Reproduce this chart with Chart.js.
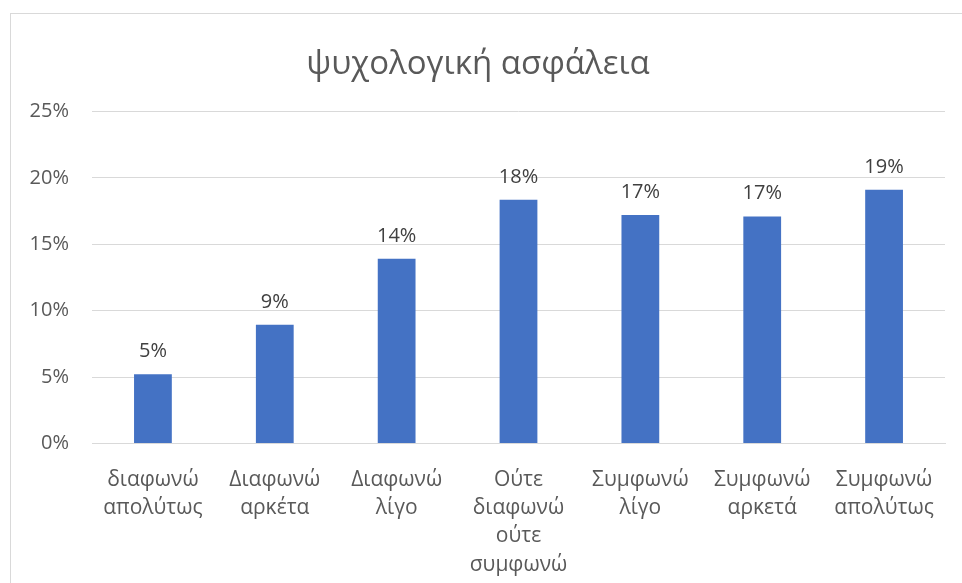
<!DOCTYPE html>
<html>
<head>
<meta charset="utf-8">
<script src="https://cdn.jsdelivr.net/npm/chart.js@4"></script>
<style>
    html, body { margin: 0; padding: 0; background: #fff; overflow: hidden; }
    #frame {
        position: absolute;
        left: 10px;
        top: 13px;
        width: 960px;
        height: 620px;
        border: 1px solid #d9d9d9;
    }
    #wrap {
        position: absolute;
        left: 11px;
        top: 14px;
        width: 951px;
        height: 569px;
    }
</style>
</head>
<body>
<div id="frame"></div>
<div id="wrap"><canvas id="chart"></canvas></div>
<script>
const chartTitle = 'ψυχολογική ασφάλεια';
const categories = [
    ['διαφωνώ', 'απολύτως'],
    ['Διαφωνώ', 'αρκέτα'],
    ['Διαφωνώ', 'λίγο'],
    ['Ούτε', 'διαφωνώ', 'ούτε', 'συμφωνώ'],
    ['Συμφωνώ', 'λίγο'],
    ['Συμφωνώ', 'αρκετά'],
    ['Συμφωνώ', 'απολύτως']
];
const values = [5.22, 8.94, 13.91, 18.36, 17.21, 17.10, 19.12];
const yTicks = [0, 5, 10, 15, 20, 25];

const FONT = '"Open Sans", "Noto Sans", sans-serif';

// value labels above each bar
const barLabels = {
    id: 'barLabels',
    afterDatasetsDraw(chart) {
        const ctx = chart.ctx;
        const meta = chart.getDatasetMeta(0);
        ctx.save();
        ctx.font = '20px ' + FONT;
        ctx.fillStyle = '#404040';
        ctx.textAlign = 'center';
        ctx.textBaseline = 'alphabetic';
        meta.data.forEach((bar, i) => {
            ctx.fillText(Math.round(values[i]) + '%', bar.x, bar.y - 17);
        });
        ctx.restore();
    }
};

const ctx = document.getElementById('chart').getContext('2d');
new Chart(ctx, {
    type: 'bar',
    data: {
        labels: categories,
        datasets: [{
            data: values,
            backgroundColor: '#4472C4',
            borderWidth: 0,
            categoryPercentage: 1,
            barPercentage: 0.31
        }]
    },
    options: {
        responsive: true,
        maintainAspectRatio: false,
        animation: false,
        layout: {
            padding: { left: 0, right: 17, top: 0, bottom: 0 }
        },
        scales: {
            x: {
                grid: { display: false },
                border: { display: true, color: '#d9d9d9', width: 1 },
                ticks: {
                    color: '#595959',
                    font: { family: FONT, size: 21, lineHeight: 1.35 },
                    padding: 14,
                    maxRotation: 0,
                    autoSkip: false
                },
                afterFit(scale) { scale.height = 139.5; }
            },
            y: {
                min: 0,
                max: 25,
                afterBuildTicks(scale) {
                    scale.ticks = yTicks.map(v => ({ value: v }));
                },
                grid: { color: '#d9d9d9', drawTicks: false, lineWidth: 1 },
                border: { display: false },
                ticks: {
                    color: '#595959',
                    font: { family: FONT, size: 20 },
                    padding: 23,
                    callback: v => v + '%'
                },
                afterFit(scale) { scale.width = 81; }
            }
        },
        plugins: {
            legend: { display: false },
            tooltip: { enabled: false },
            title: {
                display: true,
                text: chartTitle,
                color: '#595959',
                font: { family: FONT, size: 33, weight: 'normal', lineHeight: 1.2 },
                padding: { top: 31, bottom: 27 }
            }
        }
    },
    plugins: [barLabels]
});
</script>
</body>
</html>
